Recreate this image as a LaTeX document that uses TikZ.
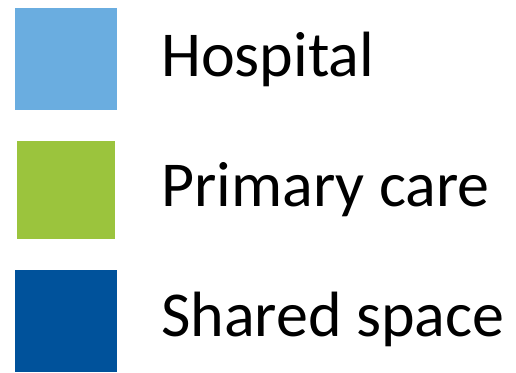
\documentclass[tikz,border=0pt]{standalone}
\usepackage{fontspec}
\setmainfont{Carlito}
\definecolor{hosp}{HTML}{6AADE0}
\definecolor{prim}{HTML}{9BC43D}
\definecolor{shar}{HTML}{00529B}
\begin{document}
\begin{tikzpicture}[x=1pt,y=-1pt,
  swatch/.style={inner sep=0pt},
  lbl/.style={anchor=base west,inner sep=0pt,font=\fontsize{64}{70}\selectfont}]
\useasboundingbox (0,0) rectangle (516,372);
\fill[hosp] (15,8) rectangle (117,110);
\fill[prim] (17,141) rectangle (115,239);
\fill[shar] (15,270) rectangle (117,372);
\node[lbl] (h) at (161,76) {Hospital};
\node[lbl] (p) at (161,206) {Primary care};
\node[lbl] (s) at (161,336) {Shared space};
\end{tikzpicture}
\end{document}
